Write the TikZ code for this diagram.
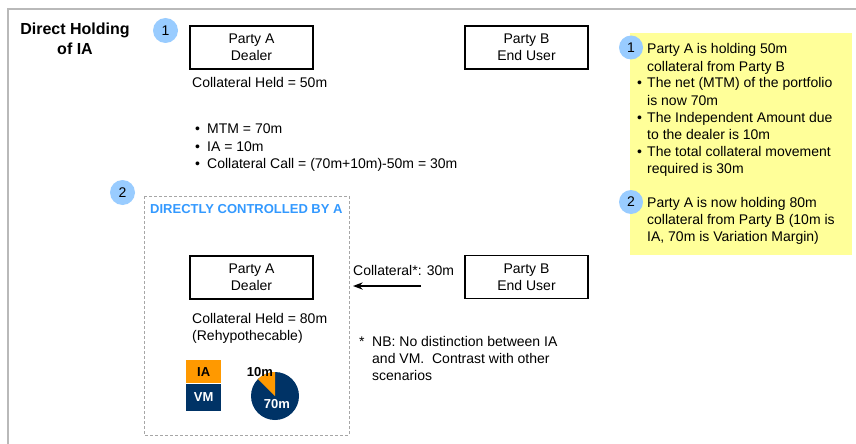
\documentclass[tikz,border=0pt]{standalone}
\usepackage{fontspec}
\setmainfont{Liberation Sans}
\usetikzlibrary{positioning,arrows.meta}
\definecolor{dotblue}{HTML}{99CCFF}
\definecolor{noteyellow}{HTML}{FFFF99}
\definecolor{headblue}{HTML}{3399FF}
\definecolor{iaorange}{HTML}{FF9900}
\definecolor{vmnavy}{HTML}{003366}
\tikzset{
  party/.style={draw, line width=1.4pt, minimum width=123pt, minimum height=43pt, align=center, inner sep=0pt},
  numdot/.style={circle, fill=dotblue, minimum size=25pt, inner sep=0pt},
  txt/.style={anchor=base west, inner sep=0pt},
  tag/.style={inner sep=0pt, font=\fontsize{13}{15}\selectfont\bfseries},
}
\begin{document}
\begin{tikzpicture}[x=1pt,y=-1pt,font=\fontsize{14}{17}\selectfont,>=Stealth]
\useasboundingbox (0,0) rectangle (856,444);
\draw[gray!55,line width=2pt] (8,444) -- (8,9) -- (856,9);
\node[font=\fontsize{16}{20}\selectfont\bfseries, align=center, anchor=base, inner sep=0pt] (title) at (75,55) {Direct Holding\\of IA};

\node[numdot] (one) at (165.5,30.5) {1};
\node[party] (dealer) at (251.5,47.5) {Party A\\Dealer};
\node[party] (user) at (526.5,47.5) {Party B\\End User};
\node[txt] (held) at (192,87) {Collateral Held = 50m};
\foreach \n/\y/\t in {mtm/133/{MTM = 70m}, ia/151/{IA = 10m}, call/168/{Collateral Call = (70m+10m)-50m = 30m}}{
  \node[txt] (\n) at (207,\y) {\t};
  \node[txt] (dot\n) at (195,\y) {\textbullet};
}

\node[numdot] (two) at (122.5,192.5) {2};
\draw[gray!70, dash pattern=on 3pt off 2pt, line width=0.9pt] (144,196) rectangle (349,435);
\node[txt, text=headblue, font=\fontsize{13}{15}\selectfont\bfseries] (ctrlhead) at (150,213) {DIRECTLY CONTROLLED BY A};
\node[party] (dealer2) at (251.5,277.5) {Party A\\Dealer};
\node[party] (user2) at (526.5,277) {Party B\\End User};
\node[txt, align=left] (held2) at (192,340) {Collateral Held = 80m\\(Rehypothecable)};
\coordinate (flowin) at (421,286);
\coordinate (flowout) at (353,286);
\draw[->, line width=1.5pt] (flowin) -- (flowout);
\node[txt] (flowlabel) at (353,275) {Collateral*: 30m};
\node[txt] (star) at (359,346) {*};
\node[txt, align=left] (nb) at (372,380) {NB: No distinction between IA\\and VM.\ \ Contrast with other\\scenarios};

\node[tag, fill=iaorange, minimum width=35pt, minimum height=23pt, anchor=north west] (ia) at (186,360) {IA};
\node[tag, fill=vmnavy, text=white, minimum width=35pt, minimum height=27pt, anchor=north] (vm) at (ia.south) {VM};
\coordinate (pie) at (275,396);
\fill[vmnavy] (pie) circle (24pt);
\fill[iaorange] (pie) -- ++(225:24) arc (225:270:24) -- cycle;
\node[tag] (ten) at (260,372) {10m};
\node[tag, text=white] (seventy) at (277,404) {70m};

\node[fill=noteyellow, minimum width=222pt, minimum height=222pt, anchor=north west, inner sep=0pt] (panel) at (630,33) {};
\node[numdot, minimum size=24pt] (pone) at (631,47.5) {1};
\node[numdot, minimum size=24pt] (ptwo) at (631,202) {2};
\foreach \y/\t in {54/{Party A is holding 50m}, 71/{collateral from Party B}, 88/{The net (MTM) of the portfolio}, 105/{is now 70m}, 122/{The Independent Amount due}, 139/{to the dealer is 10m}, 156/{The total collateral movement}, 173/{required is 30m}, 207/{Party A is now holding 80m}, 224/{collateral from Party B (10m is}, 241/{IA, 70m is Variation Margin)}}
  \node[txt] (note\y) at (647,\y) {\t};
\foreach \y in {88,122,156} \node[txt] (pdot\y) at (637,\y) {\textbullet};
\end{tikzpicture}
\end{document}
